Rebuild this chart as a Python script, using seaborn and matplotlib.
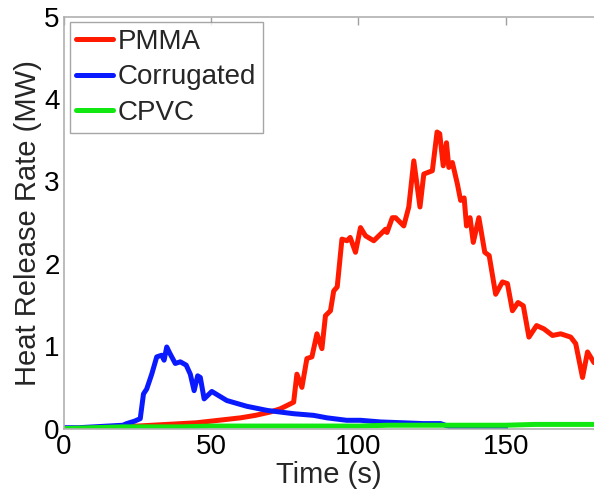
import numpy as np
import pandas as pd
import matplotlib
matplotlib.use("Agg")
import matplotlib.pyplot as plt
import seaborn as sns

# ---- data ----
pmma_t = [0, 5, 10, 15, 20, 25, 30, 35, 40, 45, 50, 55, 60, 65, 70, 73.5, 76.9, 78, 79.1, 80.8,
          82.5, 84.2, 85.9, 87.6, 88.8, 90.5, 91.6, 92.8, 94.4, 96.1, 97.2, 99, 100.7, 102.4,
          105.2, 107.5, 109.2, 109.7, 111.5, 112.6, 115.4, 117.1, 118.8, 120.9, 122.2, 125.1,
          126.7, 127.6, 128.8, 129.9, 130.7, 131.9, 133.6, 134.7, 135.9, 136.7, 137.9, 139,
          140.9, 142.9, 144.4, 146.6, 148.9, 150.6, 152.3, 154.2, 156, 157.9, 160.5, 163,
          165.9, 168.7, 172.1, 173.8, 176.1, 177.8, 180]
pmma_v = [0.0, 0.0, 0.01, 0.02, 0.03, 0.03, 0.04, 0.05, 0.06, 0.07, 0.09, 0.11, 0.13, 0.16, 0.2,
          0.24, 0.3, 0.32, 0.66, 0.5, 0.85, 0.87, 1.15, 0.97, 1.37, 1.43, 1.67, 1.72, 2.3, 2.28,
          2.32, 2.14, 2.44, 2.34, 2.28, 2.36, 2.42, 2.38, 2.56, 2.56, 2.46, 2.69, 3.25, 2.69,
          3.09, 3.13, 3.6, 3.58, 3.19, 3.47, 3.17, 3.23, 2.97, 2.77, 2.8, 2.46, 2.56, 2.26,
          2.56, 2.14, 2.1, 1.63, 1.78, 1.76, 1.43, 1.53, 1.49, 1.11, 1.25, 1.21, 1.13, 1.15,
          1.11, 1.03, 0.62, 0.93, 0.8]

corr_t = [0, 5, 10, 15, 20, 21.3, 24, 25.9, 27, 28.1, 29.8, 31.5, 33.2, 34, 34.9, 36, 37.8,
          39.5, 41.5, 42.9, 44.2, 45.4, 46.3, 47.6, 50.2, 55.3, 62.1, 69, 78, 84.8, 89.3, 96,
          100.7, 107.5, 115, 122, 127.9, 132, 140, 150]
corr_v = [0.01, 0.01, 0.02, 0.03, 0.04, 0.06, 0.09, 0.12, 0.42, 0.48, 0.66, 0.87, 0.89, 0.83,
          0.99, 0.91, 0.79, 0.81, 0.77, 0.66, 0.46, 0.64, 0.62, 0.36, 0.45, 0.34, 0.27, 0.22,
          0.18, 0.16, 0.13, 0.1, 0.1, 0.08, 0.07, 0.06, 0.06, 0.01, 0.0, 0.0]

cpvc_t = [0, 10, 20, 30, 40, 50, 60, 70, 80, 90, 100, 110, 120, 130, 140, 150, 160, 170, 180]
cpvc_v = [0.0, 0.01, 0.02, 0.02, 0.02, 0.03, 0.03, 0.03, 0.03, 0.03, 0.03, 0.04, 0.04, 0.04,
          0.04, 0.04, 0.05, 0.05, 0.05]

labels = ["PMMA", "Corrugated", "CPVC"]
colors = ["#ff1a00", "#0a1aff", "#11e811"]

sns.set_style("white")
plt.rcParams["font.family"] = ["Liberation Sans", "DejaVu Sans"]

fig = plt.figure(figsize=(5.94, 4.92), dpi=100)
ax = fig.add_axes([0.1077, 0.129, 0.8923, 0.837])

for t, v, lab, c in zip([pmma_t, corr_t, cpvc_t], [pmma_v, corr_v, cpvc_v], labels, colors):
    sns.lineplot(x=t, y=v, ax=ax, color=c, label=lab, linewidth=3.6, sort=False)

ax.set_xlim(0, 180)
ax.set_ylim(0, 5)
ax.set_xticks([0, 50, 100, 150])
ax.set_yticks([0, 1, 2, 3, 4, 5])
ax.set_xlabel("Time (s)", fontsize=21, labelpad=1)
ax.set_ylabel("Heat Release Rate (MW)", fontsize=21, labelpad=2)
ax.tick_params(axis="both", which="both", direction="in", length=6, width=1,
               color="#a0a0a0", labelsize=20, labelcolor="black", top=True)
ax.tick_params(axis="x", pad=4)
ax.tick_params(axis="y", pad=3)
for name, sp in ax.spines.items():
    sp.set_color("#b0b0b0")
    sp.set_linewidth(1.2)
ax.spines["right"].set_visible(False)

leg = ax.legend(loc="upper left", fontsize=20, frameon=True, fancybox=False,
                edgecolor="#909090", handlelength=1.33, handletextpad=0.18,
                labelspacing=0.35, borderpad=0.23, borderaxespad=0.2)
leg.get_frame().set_linewidth(1.0)

fig.savefig("out.png", dpi=100)
